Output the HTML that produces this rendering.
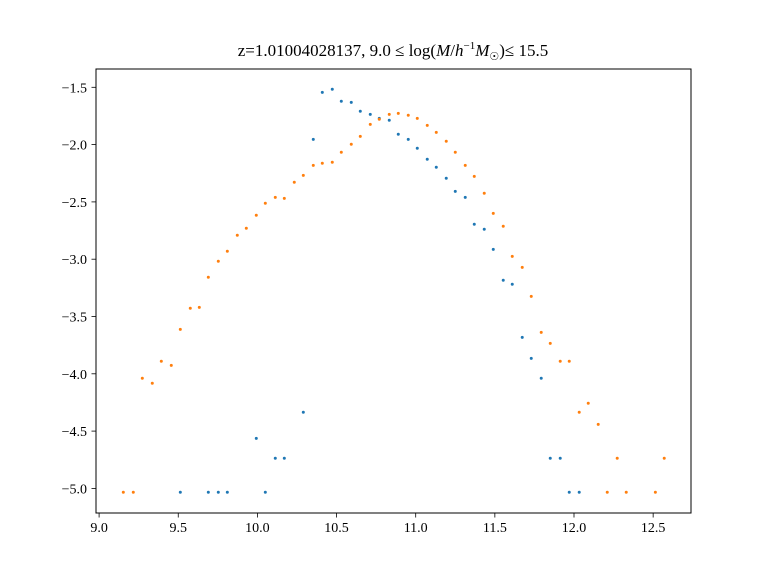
<!DOCTYPE html>
<html><head><meta charset="utf-8"><style>
html,body{margin:0;padding:0;background:#fff;}
svg{display:block;font-family:"Liberation Serif",serif;}
</style></head><body>
<svg id="chart" width="768" height="576" viewBox="0 0 768 576">
<rect x="0" y="0" width="768" height="576" fill="#fff"/>
<text x="393" y="56" text-anchor="middle" font-size="17">z=1.01004028137, 9.0 ≤ log(<tspan font-style="italic">M</tspan>/<tspan font-style="italic">h</tspan><tspan font-size="11" dy="-7">−1</tspan><tspan font-style="italic" dy="7">M</tspan><tspan font-size="11" dy="4">☉</tspan><tspan dy="-4">)≤ 15.5</tspan></text>
<g id="marks"></g>
<g id="axes"></g>
<rect x="96" y="69" width="595" height="444" fill="none" stroke="#000" stroke-width="1"/>
</svg>
<script>
const blueX=[9.513,9.690,9.753,9.810,9.993,10.050,10.113,10.170,10.290,10.353,10.410,10.473,10.530,10.593,10.650,10.713,10.770,10.833,10.890,10.953,11.010,11.073,11.130,11.193,11.250,11.313,11.370,11.433,11.490,11.553,11.610,11.673,11.730,11.793,11.850,11.913,11.970,12.033];
const blueY=[-5.034,-5.034,-5.034,-5.034,-4.563,-5.034,-4.737,-4.737,-4.336,-1.954,-1.544,-1.517,-1.622,-1.631,-1.709,-1.736,-1.771,-1.788,-1.910,-1.954,-2.032,-2.128,-2.198,-2.294,-2.408,-2.460,-2.695,-2.739,-2.914,-3.184,-3.219,-3.682,-3.865,-4.039,-4.737,-4.737,-5.034,-5.034];
const orangeX=[9.153,9.216,9.273,9.336,9.393,9.456,9.513,9.576,9.633,9.690,9.753,9.810,9.873,9.930,9.993,10.050,10.113,10.170,10.233,10.290,10.353,10.410,10.473,10.530,10.593,10.650,10.713,10.770,10.833,10.890,10.953,11.010,11.073,11.130,11.193,11.250,11.313,11.370,11.433,11.490,11.553,11.610,11.673,11.730,11.793,11.850,11.913,11.970,12.033,12.090,12.153,12.210,12.273,12.330,12.514,12.570];
const orangeY=[-5.034,-5.034,-4.039,-4.083,-3.891,-3.926,-3.612,-3.428,-3.420,-3.158,-3.018,-2.931,-2.791,-2.730,-2.617,-2.512,-2.460,-2.469,-2.329,-2.268,-2.181,-2.163,-2.154,-2.067,-1.997,-1.928,-1.823,-1.779,-1.736,-1.727,-1.744,-1.771,-1.832,-1.893,-1.971,-2.067,-2.181,-2.277,-2.425,-2.600,-2.713,-2.975,-3.071,-3.324,-3.638,-3.734,-3.891,-3.891,-4.336,-4.257,-4.441,-5.034,-4.737,-5.034,-5.034,-4.737];
const xTicks=[9.0,9.5,10.0,10.5,11.0,11.5,12.0,12.5];
const yTicks=[-1.5,-2.0,-2.5,-3.0,-3.5,-4.0,-4.5,-5.0];

const NS="http://www.w3.org/2000/svg";
function sx(v){return 99.1+(v-9)*158.3;}
function sy(v){return 87.3+(-1.5-v)*114.6;}
const marks=document.getElementById('marks');
const axes=document.getElementById('axes');
function drawSeries(xs,ys,color,name){
  for(let i=0;i<xs.length;i++){
    const c=document.createElementNS(NS,'circle');
    c.setAttribute('cx',sx(xs[i]));c.setAttribute('cy',sy(ys[i]));
    c.setAttribute('r',1.5);c.setAttribute('fill',color);
    
    
    marks.appendChild(c);
  }
}
drawSeries(blueX,blueY,'#1f77b4','blue-series');
drawSeries(orangeX,orangeY,'#ff7f0e','orange-series');
xTicks.forEach(t=>{
  const x=sx(t);
  const l=document.createElementNS(NS,'line');
  l.setAttribute('x1',x);l.setAttribute('x2',x);l.setAttribute('y1',513);l.setAttribute('y2',517.5);
  l.setAttribute('stroke','#000');l.setAttribute('stroke-width','0.8');
  
  
  axes.appendChild(l);
  const tx=document.createElementNS(NS,'text');
  tx.setAttribute('x',x);tx.setAttribute('y',532);tx.setAttribute('text-anchor','middle');tx.setAttribute('font-size','14');
  tx.textContent=t.toFixed(1);
  
  
  axes.appendChild(tx);
});
yTicks.forEach(t=>{
  const y=sy(t);
  const l=document.createElementNS(NS,'line');
  l.setAttribute('x1',91.5);l.setAttribute('x2',96);l.setAttribute('y1',y);l.setAttribute('y2',y);
  l.setAttribute('stroke','#000');l.setAttribute('stroke-width','0.8');
  
  
  axes.appendChild(l);
  const tx=document.createElementNS(NS,'text');
  tx.setAttribute('x',87);tx.setAttribute('y',y+5);tx.setAttribute('text-anchor','end');tx.setAttribute('font-size','14');
  tx.textContent='\u2212'+Math.abs(t).toFixed(1);
  
  
  axes.appendChild(tx);
});
</script>
</body></html>
